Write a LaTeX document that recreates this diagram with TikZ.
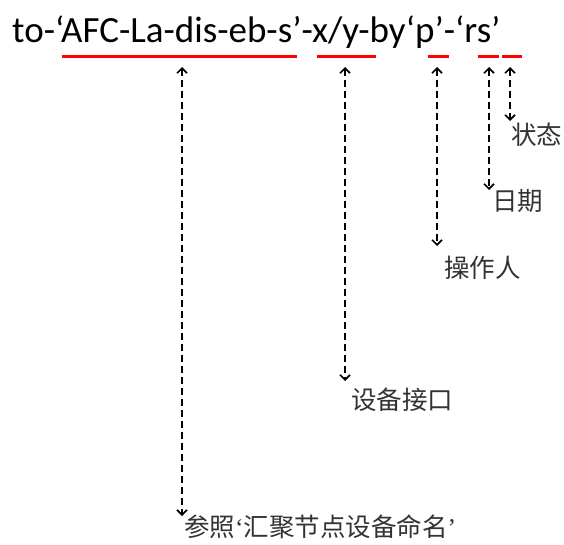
\documentclass[tikz,border=0pt]{standalone}
\usepackage{fontspec}
\setmainfont{Carlito}
\newfontfamily\cjk{Noto Sans CJK SC}
\newfontfamily\qfont{Liberation Serif}
\usetikzlibrary{arrows.meta}
\tikzset{
  redline/.style={draw=red, line width=3pt},
  dasharrow/.style={draw=black, line width=1.6pt, dash pattern=on 7pt off 4pt, {Straight Barb[length=5pt,width=10pt]}-{Straight Barb[length=5pt,width=10pt]}},
  lbl/.style={anchor=west, inner sep=0pt, font=\cjk\fontsize{25.5}{25.5}\selectfont, text=black!80}
}
\begin{document}
\begin{tikzpicture}[x=1pt,y=-1pt]
\useasboundingbox (0,0) rectangle (564,545);
\node[anchor=base west, inner sep=0pt, font=\fontsize{37}{37}\selectfont] (title) at (12,43) {to-‘AFC-La-dis-eb-s’-x/y-by‘p’-‘rs’};
% red underlines
\draw[redline] (62,57) -- (297,57);
\draw[redline] (317,57) -- (376,57);
\draw[redline] (428,57) -- (449,57);
\draw[redline] (478,57) -- (499,57);
\draw[redline] (502,57) -- (522,57);
% labels
\node[lbl] (zt) at (511,135) {状态};
\node[lbl] (rq) at (492,201) {日期};
\node[lbl] (czr) at (444,268) {操作人};
\node[lbl] (sbjk) at (351,400) {设备接口};
\node[lbl] (cz) at (184,527) {参照{\qfont ‘}汇聚节点设备命名{\qfont ’}};
% connector ends
\coordinate (s1) at (182,67);
\coordinate (e1) at (182,516);
\coordinate (s2) at (345,67);
\coordinate (e2) at (345,381);
\coordinate (s3) at (437,67);
\coordinate (e3) at (437,246);
\coordinate (s4) at (489,67);
\coordinate (e4) at (489,190);
\coordinate (s5) at (510,67);
\coordinate (e5) at (510,121);
\draw[dasharrow] (s1) -- (e1);
\draw[dasharrow] (s2) -- (e2);
\draw[dasharrow] (s3) -- (e3);
\draw[dasharrow] (s4) -- (e4);
\draw[dasharrow] (s5) -- (e5);
\end{tikzpicture}
\end{document}
